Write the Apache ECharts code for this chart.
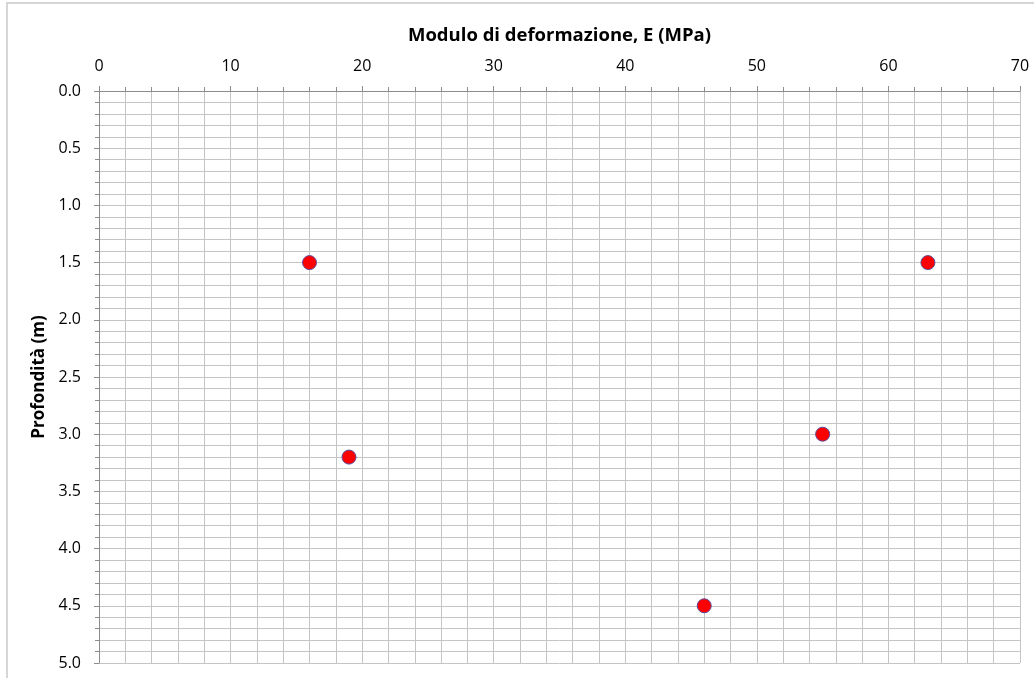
<!DOCTYPE html>
<html>
<head>
<meta charset="utf-8">
<script src="https://cdn.jsdelivr.net/npm/echarts@6/dist/echarts.min.js"></script>
<style>
html,body{margin:0;padding:0;background:#fff;}
#chart{width:1034px;height:678px;}
</style>
</head>
<body>
<div id="chart"></div>
<script>
// Data
const modulusE = [16, 19, 46, 55, 63];      // MPa
const depth = [1.5, 3.2, 4.5, 3.0, 1.5];    // m
const xTitle = 'Modulo di deformazione, E (MPa)';
const yTitle = 'Profondità (m)';

const points = modulusE.map((e, i) => [e, depth[i]]);
const font = '"Open Sans", "Liberation Sans", sans-serif';
const gridColor = '#c4c4c4';

const chart = echarts.init(document.getElementById('chart'), null, {renderer: 'canvas'});
chart.setOption({
  animation: false,
  backgroundColor: '#fff',
  graphic: [{
    type: 'rect', silent: true, z: -10,
    shape: {x: 7, y: 3, width: 1200, height: 1200},
    style: {fill: 'none', stroke: '#d6d6d6', lineWidth: 2}
  }],
  grid: {left: 99, right: 14, top: 91, bottom: 15, containLabel: false},
  xAxis: {
    type: 'value', position: 'top', min: 0, max: 70, interval: 10,
    name: xTitle, nameLocation: 'middle', nameGap: 46,
    nameTextStyle: {fontFamily: font, fontSize: 18.5, fontWeight: 'bold', color: '#000'},
    axisLine: {show: true, onZero: false, lineStyle: {color: '#8c8c8c', width: 1}},
    axisTick: {show: true, length: 5, lineStyle: {color: '#8c8c8c'}},
    minorTick: {show: true, splitNumber: 5, length: 4, lineStyle: {color: '#8c8c8c'}},
    axisLabel: {fontFamily: font, fontSize: 16, color: '#000', margin: 17},
    splitLine: {show: true, lineStyle: {color: gridColor, width: 1}},
    minorSplitLine: {show: true, lineStyle: {color: gridColor, width: 1}}
  },
  yAxis: {
    type: 'value', inverse: true, min: 0, max: 5, interval: 0.5,
    name: yTitle, nameLocation: 'middle', nameGap: 50, nameRotate: 90,
    nameTextStyle: {fontFamily: font, fontSize: 17, fontWeight: 'bold', color: '#000'},
    axisLine: {show: true, onZero: false, lineStyle: {color: '#8c8c8c', width: 1}},
    axisTick: {show: true, length: 5, lineStyle: {color: '#8c8c8c'}},
    minorTick: {show: true, splitNumber: 5, length: 4, lineStyle: {color: '#8c8c8c'}},
    axisLabel: {fontFamily: font, fontSize: 16, color: '#000', margin: 18,
      formatter: v => v.toFixed(1)},
    splitLine: {show: true, lineStyle: {color: gridColor, width: 1}},
    minorSplitLine: {show: true, lineStyle: {color: gridColor, width: 1}}
  },
  series: [{
    type: 'scatter',
    data: points,
    symbol: 'circle',
    symbolSize: 14,
    itemStyle: {color: '#ff0000', borderColor: '#5a4a9a', borderWidth: 1, opacity: 1}
  }]
});
</script>
</body>
</html>
